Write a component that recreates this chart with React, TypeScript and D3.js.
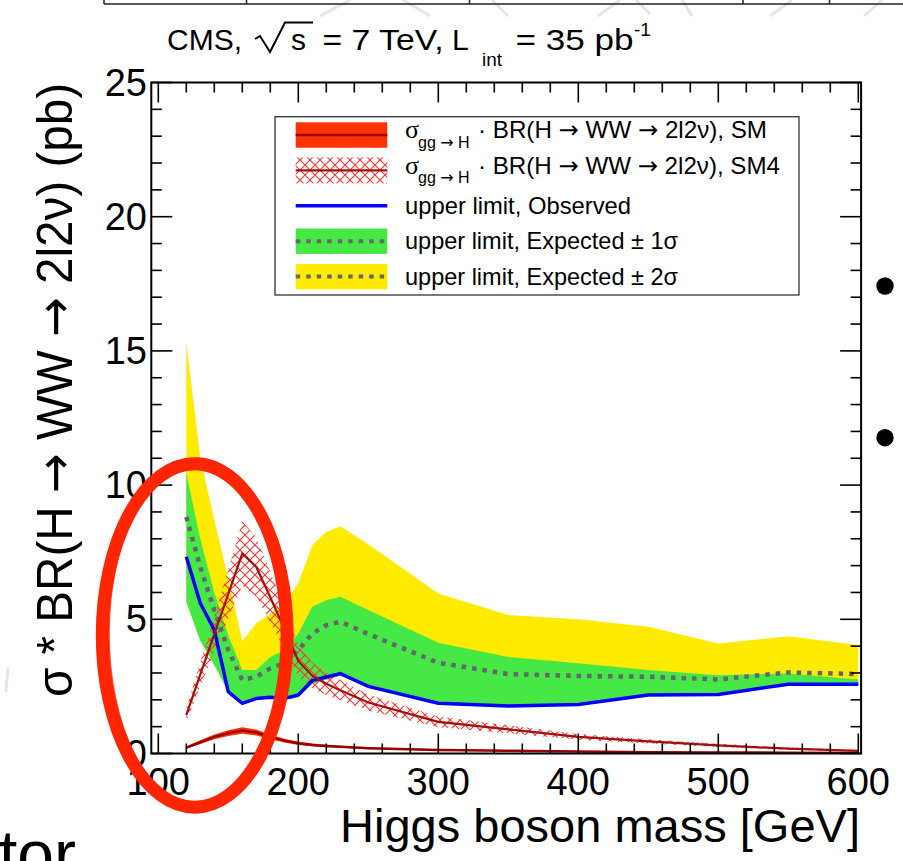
import React from "react";
import * as d3 from "d3";

// ---- data ----
const masses = [120, 130, 140, 150, 160, 170, 180, 190, 200, 210, 220, 230, 250, 300, 350, 400, 450, 500, 550, 600];
const observed = [7.33, 5.6, 4.6, 2.3, 1.87, 2.05, 2.1, 2.05, 2.18, 2.72, 2.85, 2.98, 2.5, 1.87, 1.77, 1.83, 2.18, 2.2, 2.58, 2.58];
const expected = [8.82, 6.95, 5.34, 3.85, 2.74, 2.86, 3.17, 3.36, 3.85, 4.47, 4.78, 4.91, 4.45, 3.38, 2.96, 2.89, 2.86, 2.76, 3.02, 2.96];
const expPlus1 = [10.45, 8.0, 6.0, 4.4, 3.11, 3.11, 3.6, 3.85, 4.47, 5.47, 5.71, 5.84, 5.35, 4.13, 3.6, 3.36, 3.11, 2.92, 2.98, 2.76];
const expPlus2 = [15.3, 11.0, 8.7, 6.5, 4.2, 4.85, 5.22, 5.6, 6.34, 7.76, 8.26, 8.47, 7.8, 5.96, 5.16, 5.0, 4.72, 4.1, 4.37, 4.04];
const expMinus1 = [5.65, 4.2, 3.3, 2.3, 1.9, 2.0, 2.05, 2.0, 2.1, 2.6, 2.75, 2.9, 2.45, 1.85, 1.75, 1.8, 2.15, 2.17, 2.55, 2.55];
const expMinus2 = [5.65, 4.2, 3.3, 2.3, 1.9, 2.0, 2.05, 2.0, 2.1, 2.6, 2.75, 2.9, 2.45, 1.85, 1.75, 1.8, 2.15, 2.17, 2.55, 2.55];
const smXsec = [0.22, 0.42, 0.62, 0.76, 0.86, 0.78, 0.62, 0.48, 0.38, 0.32, 0.28, 0.25, 0.2, 0.13, 0.1, 0.07, 0.05, 0.04, 0.03, 0.02];
const smErr = [0.04, 0.07, 0.09, 0.11, 0.12, 0.11, 0.09, 0.07, 0.06, 0.05, 0.045, 0.04, 0.035, 0.025, 0.02, 0.015, 0.012, 0.01, 0.008, 0.006];
const sm4Xsec = [1.43, 2.95, 4.45, 5.95, 7.45, 6.95, 5.82, 4.65, 3.45, 2.9, 2.6, 2.36, 1.9, 1.18, 0.9, 0.62, 0.45, 0.3, 0.18, 0.1];
const sm4Err = [0.25, 0.45, 0.65, 0.9, 1.2, 1.1, 0.95, 0.75, 0.6, 0.48, 0.42, 0.38, 0.3, 0.2, 0.15, 0.11, 0.08, 0.06, 0.04, 0.03];

const xMajorTicks = [100, 200, 300, 400, 500, 600];
const yMajorTicks = [0, 5, 10, 15, 20, 25];

const titleParts = { cms: "CMS,", s: "s", eq: "= 7 TeV,", L: "L", sub: "int", rest: "= 35 pb", sup: "-1" };
const xTitle = "Higgs boson mass [GeV]";
const yTitle = "σ * BR(H → WW → 2l2ν) (pb)";
const legendLabels = [
  { sub: "gg → H", main: "· BR(H → WW → 2l2ν), SM" },
  { sub: "gg → H", main: "· BR(H → WW → 2l2ν), SM4" },
  { text: "upper limit, Observed" },
  { text: "upper limit, Expected ± 1σ" },
  { text: "upper limit, Expected ± 2σ" },
];
// hand-drawn circle annotation (data units: GeV, pb)
const annotation = { mass: 126, value: 4.4, rMass: 66, rValue: 6.4 };

// ---- layout ----
const W = 903, H = 861;
const SANS = "'Liberation Sans', Arial, Helvetica, sans-serif";
const SERIF = "'Liberation Serif', 'Times New Roman', serif";
const ARROW_FONT = "'DejaVu Sans', sans-serif";
const YELLOW = "#ffeb00", GREEN = "#46e846", BLUE = "#0000ff";
const RED = "#ff3300", DARKRED = "#9a0000", HATCH = "#ff3333", DOT = "#66666e";

const withArrows = (s: string) =>
  s.split("→").flatMap((p, i) =>
    i === 0 ? [p] : [<tspan key={"a" + i} fontFamily={ARROW_FONT}>→</tspan>, p]
  );

export default function App() {
  const x = d3.scaleLinear().domain([95, 602]).range([151.3, 861.1]);
  const y = d3.scaleLinear().domain([0, 25]).range([753.5, 82.5]);
  const L = x.range()[0], R = x.range()[1], T = y.range()[1], B = y.range()[0];
  const idx = masses.map((_, i) => i);

  const band = (lo: number[], hi: number[]) =>
    d3.area<number>().x((i) => x(masses[i])).y0((i) => y(lo[i])).y1((i) => y(hi[i]))(idx) || "";
  const line = (v: number[]) => d3.line<number>().x((i) => x(masses[i])).y((i) => y(v[i]))(idx) || "";

  const smLo = smXsec.map((v, i) => v - smErr[i]);
  const smHi = smXsec.map((v, i) => v + smErr[i]);
  const sm4Lo = sm4Xsec.map((v, i) => v - sm4Err[i]);
  const sm4Hi = sm4Xsec.map((v, i) => v + sm4Err[i]);

  const xMinor = d3.range(100, 601, 20).filter((t) => !xMajorTicks.includes(t));
  const yMinor = d3.range(0, 26, 1).filter((t) => !yMajorTicks.includes(t));

  const ticks: JSX.Element[] = [];
  const tk = (k: string, x1: number, y1: number, x2: number, y2: number) =>
    ticks.push(<line key={k} x1={x1} y1={y1} x2={x2} y2={y2} stroke="#000" strokeWidth={1.6} />);
  xMajorTicks.forEach((t) => { tk("xb" + t, x(t), B, x(t), B - 20); tk("xt" + t, x(t), T, x(t), T + 20); });
  xMinor.forEach((t) => { tk("xbm" + t, x(t), B, x(t), B - 10); tk("xtm" + t, x(t), T, x(t), T + 10); });
  yMajorTicks.forEach((t) => { tk("yl" + t, L, y(t), L + 21, y(t)); tk("yr" + t, R, y(t), R - 21, y(t)); });
  yMinor.forEach((t) => { tk("ylm" + t, L, y(t), L + 10.5, y(t)); tk("yrm" + t, R, y(t), R - 10.5, y(t)); });

  // legend geometry
  const lg = { x: 275, y: 116.7, w: 524, h: 178.3, sx0: 295.7, sx1: 387.3, tx: 405, row: 35.4, first: 135 };
  const rowY = (i: number) => lg.first + i * lg.row;

  const ell = {
    cx: x(annotation.mass),
    cy: y(annotation.value),
    rx: x(annotation.mass + annotation.rMass) - x(annotation.mass),
    ry: y(0) - y(annotation.rValue),
  };

  return (
    <svg width={W} height={H} viewBox={`0 0 ${W} ${H}`} style={{ position: "absolute", left: 0, top: 0, background: "#fff" }} fontFamily={SANS}>
      <defs>
        <pattern id="hatch" patternUnits="userSpaceOnUse" width="10" height="10">
          <path d="M0,0 L10,10 M10,0 L0,10" stroke={HATCH} strokeWidth={1.1} />
        </pattern>
        <clipPath id="plot"><rect x={L} y={T} width={R - L} height={B - T} /></clipPath>
      </defs>

      {/* slide background remnants */}
      <g stroke="#e4e4e4" strokeWidth={3} opacity={0.9}>
        <line x1={320} y1={16} x2={350} y2={0} />
        <line x1={403} y1={0} x2={430} y2={16} />
        <line x1={492} y1={0} x2={508} y2={16} />
        <line x1={598} y1={16} x2={620} y2={0} />
        <line x1={636} y1={0} x2={650} y2={14} />
        <line x1={682} y1={0} x2={692} y2={16} />
        <line x1={770} y1={16} x2={792} y2={0} />
        <line x1={864} y1={16} x2={882} y2={0} />
        <line x1={8} y1={668} x2={6} y2={692} />
      </g>
      <g stroke="#222" strokeWidth={1.5}>
        <line x1={104} y1={4} x2={903} y2={4} />
        {[104, 246.5, 469.5, 743, 829.5].map((v) => <line key={v} x1={v} y1={0} x2={v} y2={4} />)}
      </g>
      <circle cx={885} cy={286} r={8.7} fill="#000" />
      <circle cx={885} cy={437.7} r={8.7} fill="#000" />
      <text x={-1} y={877} fontSize={66} fill="#000">tor</text>

      {/* title */}
      <g fontSize={30} fill="#000">
        <text x={167} y={49.5} textLength={75} lengthAdjust="spacingAndGlyphs">{titleParts.cms}</text>
        <path d="M255,39 L260,36 L270,52 L285,22.5 L313,22.5" fill="none" stroke="#000" strokeWidth={2} />
        <text x={291} y={49.5}>{titleParts.s}</text>
        <text x={322.5} y={49.5} textLength={121} lengthAdjust="spacingAndGlyphs">{titleParts.eq}</text>
        <text x={452} y={49.5}>{titleParts.L}</text>
        <text x={482} y={66} fontSize={19}>{titleParts.sub}</text>
        <text x={515.5} y={49.5} textLength={118} lengthAdjust="spacingAndGlyphs">{titleParts.rest}</text>
        <text x={634} y={36} fontSize={19}>{titleParts.sup}</text>
      </g>

      {/* data */}
      <g clipPath="url(#plot)">
        <path d={band(expMinus2, expPlus2)} fill={YELLOW} />
        <path d={band(expMinus1, expPlus1)} fill={GREEN} />
        <path d={band(sm4Lo, sm4Hi)} fill="url(#hatch)" />
        <path d={line(expected)} fill="none" stroke={DOT} strokeWidth={4.5} strokeDasharray="4.5 6" />
        <path d={line(observed)} fill="none" stroke={BLUE} strokeWidth={3.5} />
        <path d={band(smLo, smHi)} fill={RED} />
        <path d={line(smXsec)} fill="none" stroke={DARKRED} strokeWidth={2.5} />
        <path d={line(sm4Xsec)} fill="none" stroke="#a01010" strokeWidth={2.2} />
      </g>

      {/* frame, ticks */}
      {ticks}
      <rect x={L} y={T} width={R - L} height={B - T} fill="none" stroke="#000" strokeWidth={2} />

      {/* tick labels */}
      <g fontSize={38} fill="#000">
        {yMajorTicks.map((t) => (
          <text key={t} x={147} y={y(t) + 13} textAnchor="end">{t}</text>
        ))}
        {xMajorTicks.map((t) => (
          <text key={t} x={x(t)} y={795} textAnchor="middle">{t}</text>
        ))}
      </g>
      <text x={860} y={842} fontSize={47} textAnchor="end" textLength={520} lengthAdjust="spacingAndGlyphs">{xTitle}</text>
      <text transform="translate(72,390) rotate(-90)" fontSize={50} textAnchor="middle" textLength={614} lengthAdjust="spacingAndGlyphs">{withArrows(yTitle)}</text>

      {/* legend */}
      <rect x={lg.x} y={lg.y} width={lg.w} height={lg.h} fill="#fff" stroke="#333" strokeWidth={1.3} />
      <rect x={lg.sx0} y={rowY(0) - 12.7} width={lg.sx1 - lg.sx0} height={25.4} fill={RED} />
      <line x1={lg.sx0} x2={lg.sx1} y1={rowY(0)} y2={rowY(0)} stroke={DARKRED} strokeWidth={2.5} />
      <rect x={lg.sx0} y={rowY(1) - 13} width={lg.sx1 - lg.sx0} height={26} fill="url(#hatch)" />
      <line x1={lg.sx0} x2={lg.sx1} y1={rowY(1)} y2={rowY(1)} stroke="#a01010" strokeWidth={2.2} />
      <line x1={lg.sx0} x2={lg.sx1} y1={rowY(2)} y2={rowY(2)} stroke={BLUE} strokeWidth={3.5} />
      <rect x={lg.sx0} y={rowY(3) - 12.7} width={lg.sx1 - lg.sx0} height={25.4} fill={GREEN} />
      <line x1={lg.sx0} x2={lg.sx1} y1={rowY(3)} y2={rowY(3)} stroke={DOT} strokeWidth={4} strokeDasharray="4.5 6" />
      <rect x={lg.sx0} y={rowY(4) - 12.7} width={lg.sx1 - lg.sx0} height={25.4} fill={YELLOW} />
      <line x1={lg.sx0} x2={lg.sx1} y1={rowY(4)} y2={rowY(4)} stroke={DOT} strokeWidth={4} strokeDasharray="4.5 6" />

      <g fill="#000" fontSize={24}>
        {legendLabels.map((e, i) =>
          e.text ? (
            <text key={i} x={lg.tx} y={rowY(i) + 8} textLength={i === 2 ? 226 : 273} lengthAdjust="spacingAndGlyphs">{e.text}</text>
          ) : (
            <g key={i}>
              <text x={lg.tx} y={rowY(i) + 3.3} fontFamily={SERIF} fontSize={26}>σ</text>
              <text x={lg.tx + 13} y={rowY(i) + 13} fontSize={16}>{withArrows(e.sub || "")}</text>
              <text x={478} y={rowY(i) + 3.3} textLength={i === 0 ? 289 : 302} lengthAdjust="spacingAndGlyphs">{withArrows(e.main || "")}</text>
            </g>
          )
        )}
      </g>

      {/* hand-drawn red circle */}
      <ellipse cx={ell.cx} cy={ell.cy} rx={ell.rx} ry={ell.ry} fill="none" stroke="#ff2600" strokeWidth={13} />
      <ellipse cx={ell.cx + 2} cy={ell.cy - 2} rx={ell.rx - 3} ry={ell.ry + 2} fill="none" stroke="#ff2600" strokeWidth={5} opacity={0.8} />
    </svg>
  );
}
